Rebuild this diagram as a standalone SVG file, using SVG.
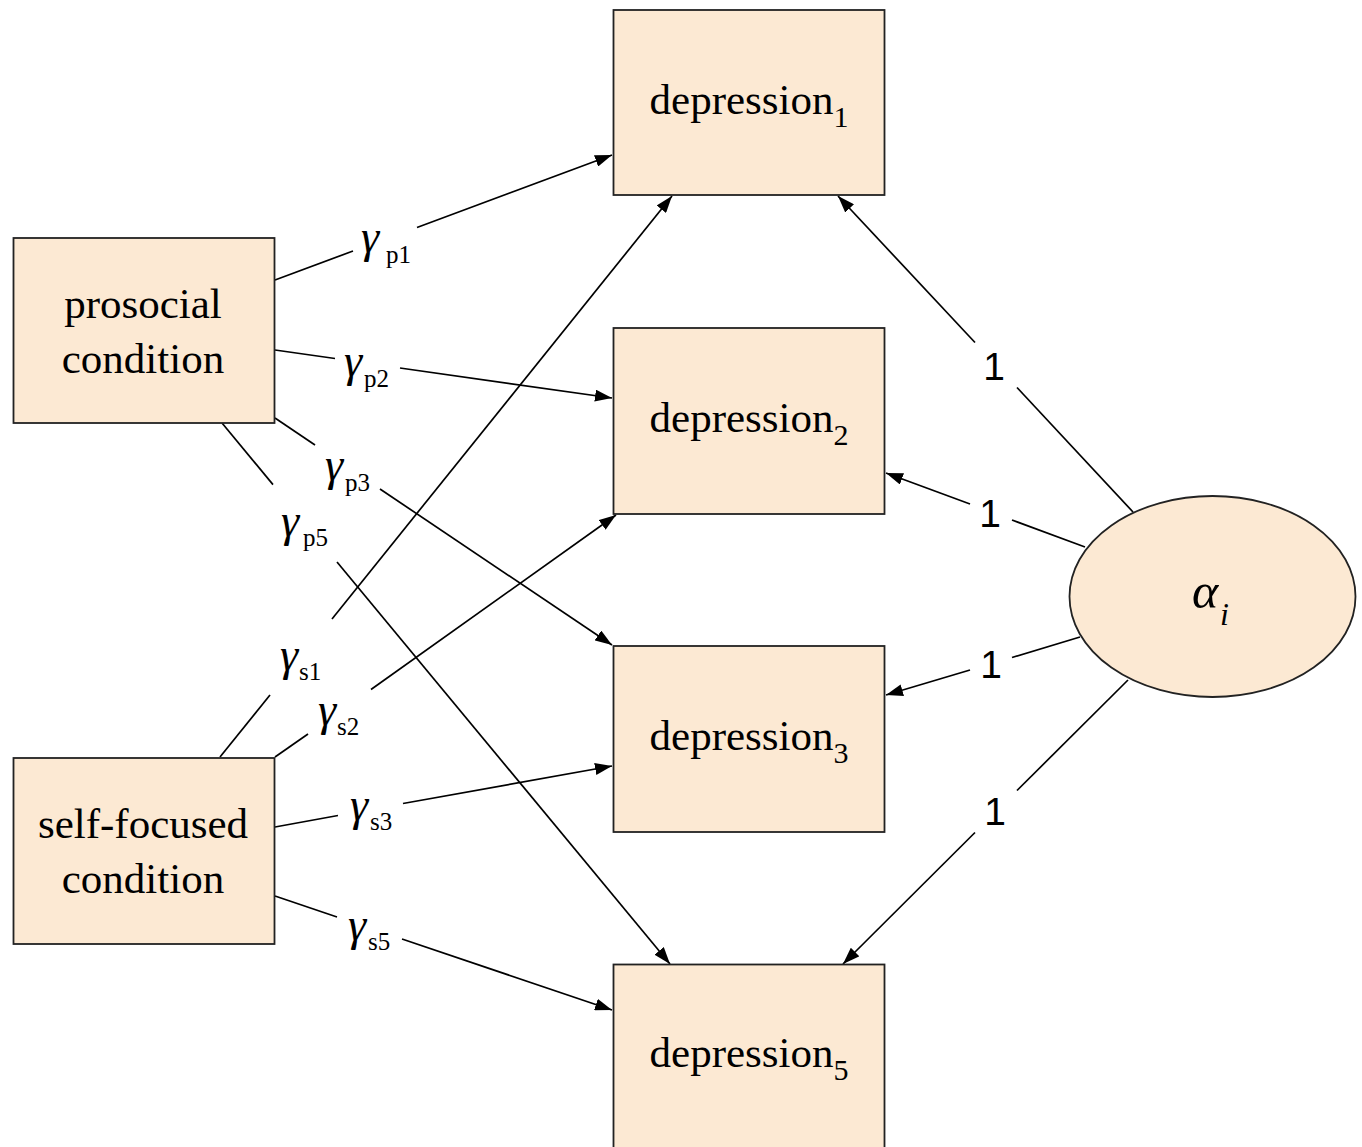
<svg xmlns="http://www.w3.org/2000/svg" width="1362" height="1147" viewBox="0 0 1362 1147">
<style>
.box{fill:#FCE9D3;stroke:#222;stroke-width:1.8}
.lbl{font-family:"Liberation Serif",serif;font-size:43px;fill:#000}
.g{font-family:"Liberation Serif",serif;font-style:italic;font-size:46px;fill:#000}
.gs{font-family:"Liberation Serif",serif;font-size:25px;fill:#000}
.one{font-family:"Liberation Sans",sans-serif;font-size:39px;fill:#000;text-anchor:middle}
.e{stroke:#000;stroke-width:1.7;fill:none}
</style>
<defs>
<marker id="ah" markerUnits="userSpaceOnUse" markerWidth="17" markerHeight="12" refX="17" refY="6" orient="auto">
<path d="M0,0 L17,6 L0,12 z" fill="#000"/>
</marker>
</defs>
<rect width="1362" height="1147" fill="#fff"/>

<g id="connectors">
<line class="e" x1="275" y1="280" x2="353" y2="251"/>
<line class="e" x1="417" y1="227.5" x2="612" y2="155" marker-end="url(#ah)"/>
<line class="e" x1="275" y1="350" x2="335" y2="358.5"/>
<line class="e" x1="400" y1="368" x2="612" y2="398" marker-end="url(#ah)"/>
<line class="e" x1="275" y1="418" x2="315" y2="445"/>
<line class="e" x1="380" y1="489" x2="612" y2="645" marker-end="url(#ah)"/>
<line class="e" x1="222" y1="423" x2="273" y2="484.6"/>
<line class="e" x1="337" y1="562" x2="670" y2="964" marker-end="url(#ah)"/>
<line class="e" x1="220" y1="757" x2="270" y2="695"/>
<line class="e" x1="332" y1="619" x2="672" y2="196" marker-end="url(#ah)"/>
<line class="e" x1="275" y1="757" x2="308" y2="734"/>
<line class="e" x1="371" y1="689.5" x2="616" y2="515" marker-end="url(#ah)"/>
<line class="e" x1="275" y1="827" x2="338" y2="815.5"/>
<line class="e" x1="403" y1="803.5" x2="612" y2="766" marker-end="url(#ah)"/>
<line class="e" x1="275" y1="896" x2="337" y2="917"/>
<line class="e" x1="402" y1="939" x2="612" y2="1010" marker-end="url(#ah)"/>
<line class="e" x1="1133" y1="512" x2="1017" y2="387.5"/>
<line class="e" x1="975" y1="342.5" x2="838" y2="196" marker-end="url(#ah)"/>
<line class="e" x1="1085" y1="547" x2="1012" y2="520"/>
<line class="e" x1="970" y1="504" x2="886" y2="473" marker-end="url(#ah)"/>
<line class="e" x1="1080" y1="637" x2="1012" y2="657.5"/>
<line class="e" x1="970" y1="670" x2="886" y2="695" marker-end="url(#ah)"/>
<line class="e" x1="1128" y1="680" x2="1017" y2="790.5"/>
<line class="e" x1="975" y1="832.5" x2="843" y2="964" marker-end="url(#ah)"/>
</g>

<g id="edge-labels">
<text class="g" x="361" y="252">γ</text><text class="gs" x="386" y="263">p1</text>
<text class="g" x="344" y="376">γ</text><text class="gs" x="364" y="387">p2</text>
<text class="g" x="325" y="480">γ</text><text class="gs" x="345" y="491">p3</text>
<text class="g" x="281" y="536">γ</text><text class="gs" x="303" y="546">p5</text>
<text class="g" x="280" y="670">γ</text><text class="gs" x="299" y="680">s1</text>
<text class="g" x="318" y="725">γ</text><text class="gs" x="337" y="735">s2</text>
<text class="g" x="350" y="820">γ</text><text class="gs" x="370" y="830">s3</text>
<text class="g" x="348" y="940">γ</text><text class="gs" x="368" y="950">s5</text>
<text class="one" x="994" y="380">1</text>
<text class="one" x="990" y="527">1</text>
<text class="one" x="991" y="678">1</text>
<text class="one" x="995" y="825">1</text>
</g>

<g id="prosocial">
<rect class="box" x="13.5" y="238" width="261" height="185"/>
<text class="lbl" x="143" y="318" text-anchor="middle">prosocial</text>
<text class="lbl" x="143" y="373" text-anchor="middle">condition</text>
</g>
<g id="selffocused">
<rect class="box" x="13.5" y="758" width="261" height="186"/>
<text class="lbl" x="143" y="838" text-anchor="middle">self-focused</text>
<text class="lbl" x="143" y="893" text-anchor="middle">condition</text>
</g>
<g id="depression1">
<rect class="box" x="613.5" y="10" width="271" height="185"/>
<text class="lbl" x="749" y="114" text-anchor="middle">depression<tspan font-size="30" dy="13">1</tspan></text>
</g>
<g id="depression2">
<rect class="box" x="613.5" y="328" width="271" height="186"/>
<text class="lbl" x="749" y="432" text-anchor="middle">depression<tspan font-size="30" dy="13">2</tspan></text>
</g>
<g id="depression3">
<rect class="box" x="613.5" y="646" width="271" height="186"/>
<text class="lbl" x="749" y="750" text-anchor="middle">depression<tspan font-size="30" dy="13">3</tspan></text>
</g>
<g id="depression5">
<rect class="box" x="613.5" y="964.5" width="271" height="186"/>
<text class="lbl" x="749" y="1067" text-anchor="middle">depression<tspan font-size="30" dy="13">5</tspan></text>
</g>
<g id="alpha">
<ellipse class="box" cx="1212.5" cy="596.5" rx="143" ry="100.5"/>
<text x="1192" y="608" font-family="Liberation Serif, serif" font-style="italic" font-size="50">α</text>
<text x="1220" y="625" font-family="Liberation Serif, serif" font-style="italic" font-size="32">i</text>
</g>
</svg>
